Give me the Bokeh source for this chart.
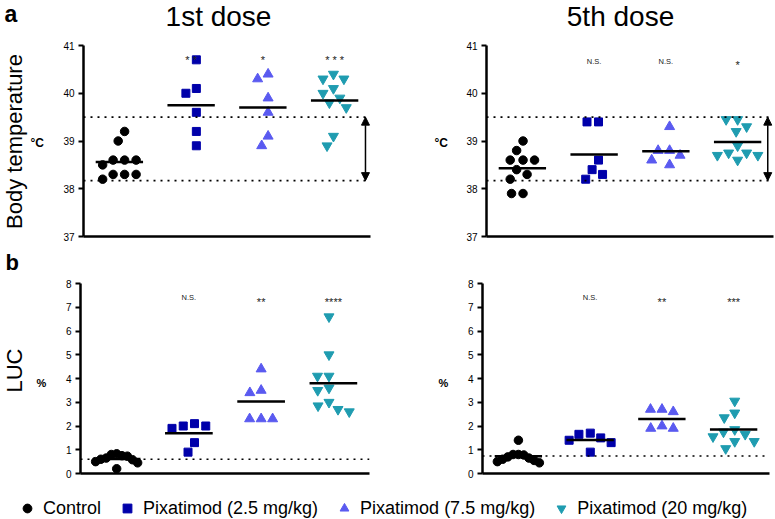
import math
import numpy as np
from bokeh.plotting import figure
from bokeh.layouts import column, row
from bokeh.models import (Span, Arrow, NormalHead, FixedTicker, Legend,
                          LegendItem, ColumnDataSource, Range1d)
from bokeh.core.properties import value
from bokeh.embed import file_html
from bokeh.resources import INLINE

FONT = "Liberation Sans"

# ---------------- data ----------------
groups = ["Control", "Pixatimod (2.5 mg/kg)", "Pixatimod (7.5 mg/kg)", "Pixatimod (20 mg/kg)"]
colors = ["#000000", "#0000aa", "#5a5af0", "#1f9cb0"]
markers = ["circle", "square", "triangle", "inverted_triangle"]
marker_sizes = [8.5, 8, 10, 10]

# Body temperature (deg C), 1st dose
temp_d1_control = [39.2, 39.0, 38.6, 38.6, 38.6, 38.5, 38.3, 38.3, 38.3, 38.2]
temp_d1_p25 = [40.7, 40.1, 40.0, 39.6, 39.2, 38.9]
temp_d1_p75 = [40.4, 40.3, 39.9, 39.6, 39.1, 38.9]
temp_d1_p20 = [40.4, 40.3, 40.3, 40.1, 40.0, 39.9, 39.8, 39.7, 39.1, 38.9]
# Body temperature (deg C), 5th dose
temp_d5_control = [39.0, 38.8, 38.6, 38.6, 38.6, 38.4, 38.3, 38.2, 37.9, 37.9]
temp_d5_p25 = [39.4, 39.4, 38.6, 38.4, 38.3, 38.2]
temp_d5_p75 = [39.3, 38.8, 38.8, 38.7, 38.6, 38.5]
temp_d5_p20 = [39.45, 39.45, 39.3, 39.2, 38.9, 38.75, 38.75, 38.7, 38.7, 38.6]
# LUC (%), 1st dose
luc_d1_control = [0.83, 0.8, 0.75, 0.73, 0.65, 0.6, 0.58, 0.5, 0.45, 0.2]
luc_d1_p25 = [2.1, 2.0, 2.0, 1.9, 1.3, 0.9]
luc_d1_p75 = [4.4, 3.5, 3.4, 2.3, 2.3, 2.3]
luc_d1_p20 = [6.6, 5.0, 4.1, 4.1, 3.6, 3.5, 3.0, 2.85, 2.7, 2.6]
# LUC (%), 5th dose
luc_d5_control = [1.4, 0.8, 0.8, 0.78, 0.7, 0.65, 0.6, 0.55, 0.5, 0.45]
luc_d5_p25 = [1.7, 1.65, 1.5, 1.4, 1.3, 0.9]
luc_d5_p75 = [2.7, 2.7, 2.6, 2.0, 1.9, 1.9]
luc_d5_p20 = [3.05, 2.55, 2.35, 1.85, 1.75, 1.65, 1.55, 1.35, 1.35, 1.05]

temp_normal_range = [38.17, 39.5]
luc_ref_d1 = 0.6
luc_ref_d5 = 0.74

sig_temp_d1 = ["* *", "*", "* * *"]
sig_temp_d5 = ["N.S.", "N.S.", "*"]
sig_luc_d1 = ["N.S.", "**", "****"]
sig_luc_d5 = ["N.S.", "**", "***"]

temp_ticks = [37, 38, 39, 40, 41]
luc_ticks = [0, 1, 2, 3, 4, 5, 6, 7, 8]

# ---------------- helpers ----------------
X_RANGE = (0.5, 4.5)
MEAN_HALF = 0.33
SWARM_D = 11.5
SWARM_MAX_HALF = 21.0


def swarm(vals, ppx, ppy, d=SWARM_D):
    order = sorted(range(len(vals)), key=lambda i: -vals[i])
    placed = []
    xs = [0.0] * len(vals)
    for i in order:
        y = vals[i] * ppy
        cands = [0.0]
        for (xj, yj) in placed:
            dy = abs(y - yj)
            if dy < d:
                w = (d * d - dy * dy) ** 0.5
                cands += [xj - w, xj + w]
        ok = [c for c in cands
              if all((c - xj) ** 2 + (y - yj) ** 2 >= d * d - 1e-6 for xj, yj in placed)]
        best = min(ok, key=lambda c: (abs(c), c))
        xs[i] = best
        placed.append((best, y))
    lo, hi = min(xs), max(xs)
    xs = [x - (lo + hi) / 2 for x in xs]
    half = max(abs(x) for x in xs)
    if half > SWARM_MAX_HALF:
        xs = [x * SWARM_MAX_HALF / half for x in xs]
    return [x / ppx for x in xs]


def text_strip(W, H, y_top, y_bottom, items):
    """Text-only figure; y is given in page pixels (its frame spans y_top..y_bottom)."""
    p = figure(width=W, height=H, output_backend="svg", toolbar_location=None, title=None,
               x_axis_type=None, y_axis_type=None, min_border=0,
               x_range=Range1d(0, W), y_range=Range1d(y_bottom, y_top))
    p.outline_line_color = None
    p.background_fill_color = "white"
    p.border_fill_color = "white"
    for it in items:
        p.text(x=[it["x"]], y=[it["y"]], text=[it["text"]], angle=it.get("angle", 0),
               text_font=value(FONT), text_font_size=it["size"],
               text_font_style=it.get("style", "normal"), text_color="black",
               text_align=it.get("align", "left"), text_baseline="middle")
    return p


def make_panel(series, ylim, ticks, W, H, mb, sig, sig_y, refs, arrow_x):
    left, right, top, bottom = mb
    p = figure(width=W, height=H, x_range=Range1d(*X_RANGE), y_range=Range1d(*ylim),
               output_backend="svg", toolbar_location=None, title=None,
               min_border_left=left, min_border_right=right,
               min_border_top=top, min_border_bottom=bottom)
    p.xgrid.visible = False
    p.ygrid.visible = False
    p.outline_line_color = None
    p.background_fill_color = "white"
    p.border_fill_color = "white"

    p.xaxis.ticker = FixedTicker(ticks=[])
    p.xaxis.axis_line_width = 2.5
    p.xaxis.major_tick_line_color = None
    p.xaxis.minor_tick_line_color = None
    p.xaxis.major_tick_out = 0
    p.xaxis.major_label_standoff = 0
    p.xaxis.major_label_text_font_size = "0px"

    p.yaxis.ticker = FixedTicker(ticks=ticks)
    p.yaxis.axis_line_width = 2.5
    p.yaxis.major_tick_line_width = 2
    p.yaxis.major_tick_out = 5
    p.yaxis.major_tick_in = 0
    p.yaxis.minor_tick_line_color = None
    p.yaxis.major_label_text_font = FONT
    p.yaxis.major_label_text_font_size = "10px"
    p.yaxis.major_label_text_color = "black"
    p.yaxis.major_label_standoff = 4

    fw = W - left - right
    fh = H - top - bottom
    ppx = fw / (X_RANGE[1] - X_RANGE[0])
    ppy = fh / (ylim[1] - ylim[0])

    for r in refs:
        p.add_layout(Span(location=r, dimension="width", line_color="black",
                          line_width=1.6, line_dash="2 5"))

    for g, vals in enumerate(series):
        offs = swarm(vals, ppx, ppy)
        xs = [g + 1 + o for o in offs]
        p.scatter(x=xs, y=vals, marker=markers[g], size=marker_sizes[g],
                  fill_color=colors[g], line_color=colors[g])
    means = [float(np.mean(v)) for v in series]
    p.segment(x0=[g + 1 - MEAN_HALF for g in range(4)], x1=[g + 1 + MEAN_HALF for g in range(4)],
              y0=means, y1=means, line_color="black", line_width=2.5)

    ns_y, star_y = sig_y
    src = ColumnDataSource(dict(
        x=[2, 3, 4], y=[ns_y if s.startswith("N") else star_y for s in sig], text=sig,
        size=["7.5px" if s.startswith("N") else "11px" for s in sig]))
    p.text(x="x", y="y", text="text", source=src, text_font=value(FONT),
           text_font_size="size", text_align="center", text_baseline="middle",
           text_color="#222222")

    if arrow_x is not None:
        p.add_layout(Arrow(start=NormalHead(size=8, fill_color="black", line_color="black"),
                           end=NormalHead(size=8, fill_color="black", line_color="black"),
                           x_start=arrow_x, y_start=refs[1], x_end=arrow_x, y_end=refs[0],
                           line_width=1.5, line_color="black"))
    return p


# ---------------- header (page y 0..40) ----------------
header = text_strip(775, 40, 0, 40, [
    dict(x=4, y=13, text="a", size="23px", style="bold"),
    dict(x=218, y=16, text="1st dose", size="28px", align="center"),
    dict(x=620, y=16, text="5th dose", size="28px", align="center"),
])

# ---------------- top row (page y 40..246, frames 45..236) ----------------
strip_tl = text_strip(58, 206, 45, 236, [
    dict(x=14, y=141, text="Body temperature", size="22px", align="center",
         angle=math.pi / 2),
    dict(x=30, y=142, text="°C", size="12px", style="bold"),
])
p_tl = make_panel([temp_d1_control, temp_d1_p25, temp_d1_p75, temp_d1_p20], (37, 41), temp_ticks,
                  342, 206, (25, 30, 5, 10), sig_temp_d1, (40.66, 40.70), temp_normal_range, 4.43)
strip_tr = text_strip(60, 206, 45, 236, [
    dict(x=34, y=142, text="°C", size="12px", style="bold"),
])
p_tr = make_panel([temp_d5_control, temp_d5_p25, temp_d5_p75, temp_d5_p20], (37, 41), temp_ticks,
                  315, 206, (26, 2, 5, 10), sig_temp_d5, (40.66, 40.60), temp_normal_range, 4.42)

# ---------------- "b" header (page y 246..277) ----------------
header_b = text_strip(775, 31, 246, 277, [
    dict(x=5, y=262, text="b", size="22px", style="bold"),
])

# ---------------- bottom row (page y 277..484, frames 283..473) ----------------
strip_bl = text_strip(58, 207, 283, 473, [
    dict(x=14, y=370, text="LUC", size="22px", align="center", angle=math.pi / 2),
    dict(x=36, y=382, text="%", size="11px", style="bold"),
])
p_bl = make_panel([luc_d1_control, luc_d1_p25, luc_d1_p75, luc_d1_p20], (0, 8), luc_ticks,
                  342, 207, (22, 31, 6, 11), sig_luc_d1, (7.41, 7.22), [luc_ref_d1], None)
strip_br = text_strip(60, 207, 283, 473, [
    dict(x=38, y=382, text="%", size="11px", style="bold"),
])
p_br = make_panel([luc_d5_control, luc_d5_p25, luc_d5_p75, luc_d5_p20], (0, 8), luc_ticks,
                  315, 207, (22, 6, 6, 11), sig_luc_d5, (7.41, 7.22), [luc_ref_d5], None)

# ---------------- legend (page y 484..519) ----------------
leg = figure(width=775, height=35, output_backend="svg", toolbar_location=None, title=None,
             x_axis_type=None, y_axis_type=None, min_border=0,
             x_range=Range1d(0, 1), y_range=Range1d(0, 1))
leg.outline_line_color = None
leg.background_fill_color = "white"
leg.border_fill_color = "white"
items = []
for g in range(4):
    r = leg.scatter(x=np.array([np.nan]), y=np.array([np.nan]), marker=markers[g],
                    fill_color=colors[g], line_color=colors[g])
    items.append(LegendItem(label=groups[g], renderers=[r]))
legend = Legend(items=items, orientation="horizontal", location=(16, 0),
                glyph_width=22, glyph_height=22, label_standoff=5, spacing=15,
                padding=0, margin=0, border_line_color=None, background_fill_alpha=0,
                label_text_font=FONT, label_text_font_size="18px", label_text_color="black")
leg.add_layout(legend)

layout = column(header,
                row(strip_tl, p_tl, strip_tr, p_tr),
                header_b,
                row(strip_bl, p_bl, strip_br, p_br),
                leg)

with open("out.html", "w") as f:
    f.write(file_html(layout, INLINE))
